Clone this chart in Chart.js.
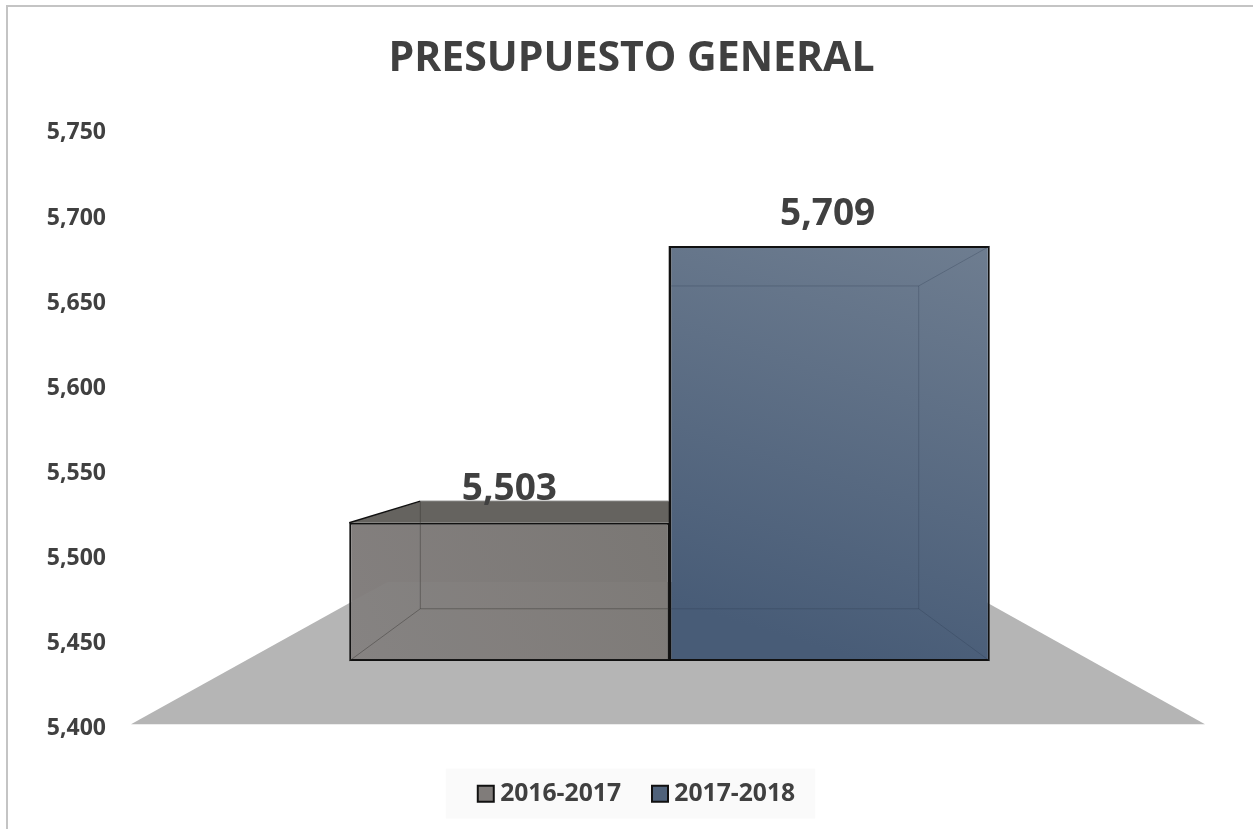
<!DOCTYPE html>
<html>
<head>
<meta charset="utf-8">
<style>html,body{margin:0;padding:0;background:#fff}canvas{display:block}</style>
<script src="https://cdn.jsdelivr.net/npm/chart.js@4"></script>
</head>
<body>
<canvas id="c" width="1253" height="829"></canvas>
<script>
const categories = ['Presupuesto'];
const seriesNames = ['2016-2017', '2017-2018'];
const values2016 = [5503];
const values2017 = [5709];
const tickMin = 5400, tickMax = 5750, tickStep = 50;
const FONT = '"Open Sans"';
const TEXT = '#404040';
const fmt = v => Number(v).toLocaleString('en-US');
const flat = ['#807c7a', '#4f627b'];
const stops = [['#7a7774', '#84807f'], ['#6e7d90', '#485c77']];

function frontGradient(c, i) {
  const a = c.chart.chartArea;
  if (!a) return flat[i];
  const v = c.chart.data.datasets[i].data[0];
  const sy = c.chart.scales.yBars, sx = c.chart.scales.x;
  const half = sx.width * 0.2985;
  const cx = sx.getPixelForValue(0);
  const x0 = i === 0 ? cx : cx + half, x1 = i === 0 ? cx - half : cx + half * 0.6;
  const g = c.chart.ctx.createLinearGradient(x0, sy.getPixelForValue(v), x1, sy.getPixelForValue(5400));
  g.addColorStop(0, stops[i][0]);
  g.addColorStop(1, stops[i][1]);
  return g;
}

const depth = 0.778, floorDepth = 0.524, vanishFromTop = 292.7;
function boxOf(chart, i) {
  const e = chart.getDatasetMeta(i).data[0];
  const vx = (chart.chartArea.left + chart.chartArea.right) / 2;
  const vy = chart.chartArea.top + vanishFromTop;
  const l = e.x - e.width / 2, r = e.x + e.width / 2;
  const px = x => vx + depth * (x - vx), py = y => vy + depth * (y - vy);
  return {l, r, t: e.y, b: e.base, bl: px(l), br: px(r), bt: py(e.y), bb: py(e.base)};
}
function line(ctx, pts) {
  ctx.beginPath();
  pts.forEach((p, k) => k ? ctx.lineTo(p[0], p[1]) : ctx.moveTo(p[0], p[1]));
  ctx.stroke();
}
const scene = {
  id: 'scene',
  afterLayout(chart) {
    chart.legend.left += 8;
    chart.legend.right += 8;
  },
  beforeDraw(chart) {
    const ctx = chart.ctx;
    ctx.save();
    ctx.strokeStyle = '#c4c4c4';
    ctx.lineWidth = 2;
    ctx.beginPath();
    ctx.moveTo(7, 829); ctx.lineTo(7, 6); ctx.lineTo(1253, 6);
    ctx.stroke();
    const hb = chart.legend.legendHitBoxes;
    if (hb && hb.length) {
      const l = hb[0].left - 38, r = hb[hb.length - 1].left + hb[hb.length - 1].width + 20;
      const cy = hb[0].top + hb[0].height / 2;
      ctx.fillStyle = '#fafafa';
      ctx.fillRect(l, cy - 25, r - l, 50);
    }
    ctx.restore();
  },
  beforeDatasetsDraw(chart) {
    const ctx = chart.ctx, a = chart.chartArea;
    const vx = (a.left + a.right) / 2, vy = a.top + vanishFromTop;
    const fy = a.bottom - 4;
    const bx = x => vx + floorDepth * (x - vx), by = y => vy + floorDepth * (y - vy);
    ctx.save();
    ctx.fillStyle = '#b5b5b5';
    ctx.beginPath();
    ctx.moveTo(a.left - 2, fy);
    ctx.lineTo(a.right - 1, fy);
    ctx.lineTo(bx(a.right - 1), by(fy));
    ctx.lineTo(bx(a.left - 2), by(fy));
    ctx.closePath();
    ctx.fill();
    // top face of a box that rises above its front edge
    [0, 1].forEach(i => {
      const b = boxOf(chart, i);
      if (b.bt < b.t) {
        ctx.fillStyle = '#65635f';
        ctx.beginPath();
        ctx.moveTo(b.l, b.t); ctx.lineTo(b.bl, b.bt);
        ctx.lineTo(b.r, b.bt); ctx.lineTo(b.r, b.t);
        ctx.closePath();
        ctx.fill();
      }
    });
    ctx.restore();
  },
  afterDatasetsDraw(chart) {
    const ctx = chart.ctx, a = chart.chartArea;
    const vx = (a.left + a.right) / 2, vy = a.top + vanishFromTop;
    const b0 = boxOf(chart, 0), b1 = boxOf(chart, 1);
    ctx.save();
    // floor seen through the boxes
    const fy = a.bottom - 4;
    const backY = vy + floorDepth * (fy - vy);
    ctx.fillStyle = 'rgba(255,255,255,0.025)';
    ctx.beginPath();
    const bx = vx + floorDepth * (a.left - 2 - vx);
    ctx.moveTo(b0.l + 1, backY + 20);
    ctx.lineTo(bx, backY);
    ctx.lineTo(b1.l, backY);
    ctx.lineTo(b1.l, b0.b - 1);
    ctx.lineTo(b0.l + 1, b0.b - 1);
    ctx.closePath();
    ctx.fill();
    ctx.lineWidth = 1;
    ctx.strokeStyle = 'rgba(50,48,46,0.42)';
    line(ctx, [[b0.bl, b0.bt], [b0.bl, b0.bb], [b0.r, b0.bb]]);
    line(ctx, [[b0.l, b0.b], [b0.bl, b0.bb]]);
    ctx.strokeStyle = 'rgba(40,55,75,0.28)';
    line(ctx, [[b1.l, b1.bt], [b1.br, b1.bt], [b1.br, b1.bb], [b1.l, b1.bb]]);
    line(ctx, [[b1.r, b1.t], [b1.br, b1.bt]]);
    line(ctx, [[b1.r, b1.b], [b1.br, b1.bb]]);
    // shared edge of the two boxes
    ctx.strokeStyle = '#111';
    ctx.lineWidth = 1.6;
    line(ctx, [[b0.r, b1.t], [b0.r, b0.b]]);
    // black silhouette edge and thin back edge of the low box
    ctx.lineWidth = 1.4;
    line(ctx, [[b0.l, b0.t], [b0.bl, b0.bt]]);
    ctx.strokeStyle = '#6e6c6a';
    ctx.lineWidth = 1;
    line(ctx, [[b0.bl, b0.bt], [b0.r - 1, b0.bt]]);
    // value labels
    ctx.fillStyle = TEXT;
    ctx.font = '700 37px ' + FONT;
    ctx.textAlign = 'center';
    ctx.textBaseline = 'middle';
    [0, 1].forEach(i => {
      const e = chart.getDatasetMeta(i).data[0];
      ctx.fillText(fmt(chart.data.datasets[i].data[0]), e.x - i * 2, e.y - 33.5 + i * 1.5);
    });
    ctx.restore();
  }
};

new Chart(document.getElementById('c'), {
  type: 'bar',
  data: {
    labels: categories,
    datasets: [
      {label: seriesNames[0], data: values2016, base: tickMin, yAxisID: 'yBars',
       backgroundColor: c => frontGradient(c, 0), borderColor: '#111', borderWidth: 2, borderSkipped: false},
      {label: seriesNames[1], data: values2017, base: tickMin, yAxisID: 'yBars',
       backgroundColor: c => frontGradient(c, 1), borderColor: '#111', borderWidth: 2, borderSkipped: false}
    ]
  },
  options: {
    responsive: false,
    animation: false,
    datasets: {bar: {categoryPercentage: 0.597, barPercentage: 1}},
    layout: {padding: {left: 10, right: 0, top: 0, bottom: 13}},
    scales: {
      x: {
        grid: {display: false}, border: {display: false},
        ticks: {display: false},
        afterFit: s => { s.height = 16; }
      },
      y: {
        position: 'left', min: tickMin, max: tickMax,
        grid: {display: false}, border: {display: false},
        ticks: {stepSize: tickStep, color: TEXT, padding: 19, font: {family: FONT, weight: '700', size: 23}, callback: fmt},
        afterFit: s => { s.width = 123; }
      },
      yBars: {
        position: 'right', min: 5349.9, max: 5793.3,
        grid: {display: false}, border: {display: false},
        ticks: {display: false},
        afterFit: s => { s.width = 47; }
      }
    },
    plugins: {
      title: {
        display: true, text: 'PRESUPUESTO GENERAL', color: TEXT,
        font: {family: FONT, weight: '700', size: 41},
        padding: {top: 34.7, bottom: 49}
      },
      legend: {
        position: 'bottom',
        labels: {
          color: TEXT, font: {family: FONT, weight: '700', size: 24.7},
          padding: 37, boxWidth: 4, boxHeight: 16, usePointStyle: true,
          generateLabels: chart => chart.data.datasets.map((d, i) => ({
            text: d.label, fontColor: TEXT, fillStyle: flat[i], strokeStyle: '#111', lineWidth: 2,
            pointStyle: 'rect', datasetIndex: i
          }))
        }
      },
      tooltip: {enabled: false}
    }
  },
  plugins: [scene]
});
</script>
</body>
</html>
